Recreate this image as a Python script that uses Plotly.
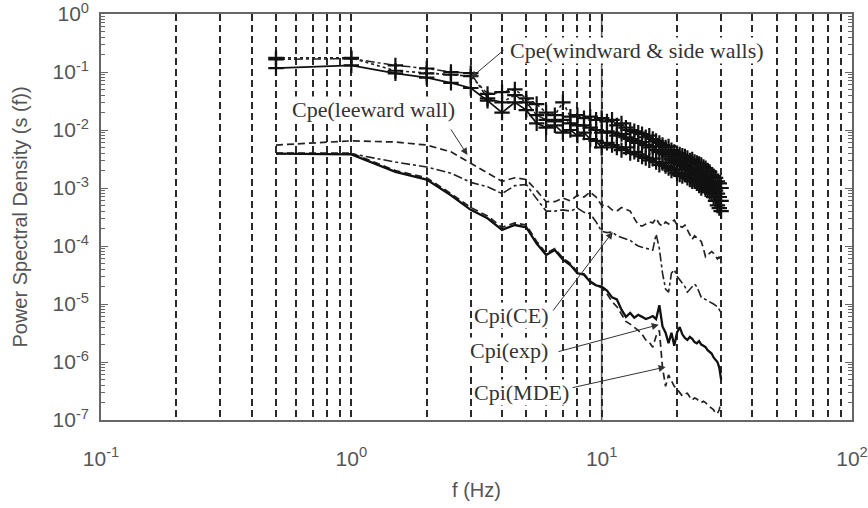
import math
import plotly.graph_objects as go

freq = [0.5, 1.0, 1.5, 2.0, 2.5, 3.0, 3.5, 4.0, 4.5, 5.0, 5.5, 6.0, 6.5, 7.0, 7.5, 8.0, 8.5, 9.0, 9.5, 10.0,
        10.5, 11.0, 11.5, 12.0, 12.5, 13.0, 13.5, 14.0, 14.5, 15.0, 15.5, 16.0, 16.5, 17.0, 17.5, 18.0, 18.5, 19.0, 19.5, 20.0,
        20.5, 21.0, 21.5, 22.0, 22.5, 23.0, 23.5, 24.0, 24.5, 25.0, 25.5, 26.0, 26.5, 27.0, 27.5, 28.0, 28.5, 29.0, 29.5, 30.0]

cpe_windward_solid = [0.117, 0.13, 0.095, 0.08, 0.065, 0.053, 0.032, 0.02, 0.03, 0.022, 0.013, 0.011, 0.012, 0.009, 0.01, 0.008, 0.009, 0.007, 0.0065, 0.005,
                      0.006, 0.0055, 0.005, 0.0045, 0.005, 0.004, 0.0042, 0.0038, 0.0035, 0.0033, 0.003, 0.0032, 0.0028, 0.0025, 0.0027, 0.0024, 0.0022, 0.002, 0.0021, 0.0018,
                      0.0017, 0.0016, 0.0017, 0.0015, 0.0014, 0.0013, 0.0014, 0.0012, 0.0011, 0.001, 0.0011, 0.00095, 0.0009, 0.00085, 0.0008, 0.0007, 0.0006, 0.0005, 0.00045, 0.0004]

cpe_side_dotted = [0.175, 0.175, 0.105, 0.095, 0.09, 0.085, 0.042, 0.045, 0.05, 0.035, 0.028, 0.02, 0.018, 0.03, 0.017, 0.018, 0.016, 0.017, 0.015, 0.016,
                   0.014, 0.015, 0.012, 0.013, 0.011, 0.01, 0.0095, 0.009, 0.0085, 0.0075, 0.008, 0.007, 0.0065, 0.006, 0.0055, 0.005, 0.0052, 0.0045, 0.0042, 0.004,
                   0.0038, 0.0036, 0.0035, 0.0033, 0.003, 0.0031, 0.0028, 0.0027, 0.0026, 0.0025, 0.0023, 0.0022, 0.002, 0.0019, 0.0017, 0.0016, 0.0015, 0.0013, 0.0012, 0.001]

cpe_side_dashdot = [0.165, 0.17, 0.13, 0.115, 0.1, 0.096, 0.035, 0.03, 0.04, 0.03, 0.018, 0.015, 0.014, 0.015, 0.013, 0.012, 0.012, 0.011, 0.01, 0.009,
                    0.0095, 0.009, 0.008, 0.0085, 0.0075, 0.007, 0.0065, 0.006, 0.0062, 0.0055, 0.005, 0.0052, 0.0045, 0.0042, 0.004, 0.0038, 0.0035, 0.0032, 0.003, 0.0028,
                    0.0027, 0.0025, 0.0024, 0.0022, 0.0021, 0.002, 0.0019, 0.0018, 0.0017, 0.0016, 0.0015, 0.0014, 0.0013, 0.0012, 0.0011, 0.001, 0.0009, 0.0008, 0.0007, 0.0006]

cpe_leeward = [5.5e-3, 6.5e-3, 6.2e-3, 5.5e-3, 4.2e-3, 2.7e-3, 1.8e-3, 1.3e-3, 1.5e-3, 1.4e-3, 9e-4, 5.8e-4, 5.8e-4, 6.7e-4, 6e-4, 7.5e-4, 7e-4, 8.5e-4, 7e-4, 5e-4,
               5e-4, 4.2e-4, 4e-4, 4.6e-4, 4.3e-4, 4e-4, 3e-4, 2.3e-4, 2.2e-4, 2.4e-4, 2.6e-4, 2.5e-4, 3e-4, 2.4e-4, 2.2e-4, 2.6e-4, 2.4e-4, 2.6e-4, 2.8e-4, 2.3e-4,
               2.2e-4, 2.1e-4, 2.3e-4, 1.9e-4, 1.6e-4, 1.3e-4, 1.5e-4, 1.4e-4, 1.3e-4, 1.2e-4, 9e-5, 6.5e-5, 7e-5, 7.5e-5, 8e-5, 7.5e-5, 6.5e-5, 6e-5, 6.5e-5, 5e-5]

cpi_ce = [3.9e-3, 3.9e-3, 2.8e-3, 2.3e-3, 1.8e-3, 1.25e-3, 1.05e-3, 8e-4, 1.1e-3, 1.15e-3, 6.5e-4, 4e-4, 4e-4, 4.2e-4, 4e-4, 4.5e-4, 3.8e-4, 3.6e-4, 2.6e-4, 1.8e-4,
          1.7e-4, 1.75e-4, 1.5e-4, 1.4e-4, 1.35e-4, 1.25e-4, 1.1e-4, 1.0e-4, 9.5e-5, 9e-5, 8.8e-5, 8.5e-5, 1.6e-4, 9e-5, 3.4e-5, 1.8e-5, 1.6e-5, 3.4e-5, 3.9e-5, 3e-5,
          2.6e-5, 2.3e-5, 2e-5, 1.6e-5, 1.8e-5, 2e-5, 2.2e-5, 2e-5, 1.6e-5, 1.3e-5, 1.25e-5, 1.2e-5, 1.15e-5, 1.1e-5, 1.05e-5, 1.0e-5, 9.5e-6, 9e-6, 8e-6, 7e-6]

cpi_exp = [3.9e-3, 3.8e-3, 1.9e-3, 1.4e-3, 7.5e-4, 4.2e-4, 3.0e-4, 1.9e-4, 2.3e-4, 2.1e-4, 1.1e-4, 7e-5, 8.5e-5, 5.8e-5, 4.7e-5, 3.4e-5, 3.2e-5, 2.4e-5, 2.1e-5, 2e-5,
           1.7e-5, 1.3e-5, 1.2e-5, 8e-6, 6e-6, 7e-6, 5.8e-6, 6.5e-6, 6e-6, 5.5e-6, 5.8e-6, 6.2e-6, 5.5e-6, 9.5e-6, 4.1e-6, 3.2e-6, 2.1e-6, 3.2e-6, 1.9e-6, 3.2e-6,
           4e-6, 3e-6, 2.6e-6, 2.4e-6, 2.7e-6, 2.5e-6, 2.2e-6, 2.1e-6, 2.3e-6, 2.0e-6, 1.9e-6, 1.8e-6, 1.6e-6, 1.5e-6, 1.4e-6, 1.2e-6, 1.1e-6, 1.0e-6, 8e-7, 5e-7]

cpi_mde = [4.0e-3, 4.0e-3, 2.0e-3, 1.5e-3, 8e-4, 4.6e-4, 3.3e-4, 2.1e-4, 2.5e-4, 2.3e-4, 1.2e-4, 7.5e-5, 9e-5, 6.2e-5, 5e-5, 3.6e-5, 3.3e-5, 2.5e-5, 2.1e-5, 1.9e-5,
           1.5e-5, 1.1e-5, 9e-6, 6.5e-6, 5e-6, 4.5e-6, 4e-6, 3.5e-6, 3e-6, 2.4e-6, 2.2e-6, 1.8e-6, 2.8e-6, 3.5e-6, 8e-7, 3.8e-7, 6e-7, 4.8e-7, 3.8e-7, 3.4e-7,
           3e-7, 2.6e-7, 2.8e-7, 2.9e-7, 2.5e-7, 2.2e-7, 2.4e-7, 2.3e-7, 2.1e-7, 2e-7, 2.1e-7, 2e-7, 1.8e-7, 1.7e-7, 1.6e-7, 1.5e-7, 1.3e-7, 1.3e-7, 1.5e-7, 2.2e-7]

x_tick_vals = [0.1, 1, 10, 100]
x_tick_text = ["10<sup>-1</sup>", "10<sup>0</sup>", "10<sup>1</sup>", "10<sup>2</sup>"]
y_tick_vals = [1e-7, 1e-6, 1e-5, 1e-4, 1e-3, 1e-2, 1e-1, 1]
y_tick_text = ["10<sup>-7</sup>", "10<sup>-6</sup>", "10<sup>-5</sup>", "10<sup>-4</sup>",
               "10<sup>-3</sup>", "10<sup>-2</sup>", "10<sup>-1</sup>", "10<sup>0</sup>"]
solid_grid_at = 10

x_minor = [m * 10.0 ** d for d in (-1, 0, 1) for m in range(2, 10)]
y_minor = [m * 10.0 ** d for d in range(-7, 0) for m in range(2, 10)]

# plot-area geometry (pixels) used only to place annotation texts
L, R, T, B = 101, 852, 14, 420

fig = go.Figure()
marker_cross = dict(symbol="cross-thin", size=11, line=dict(width=2.2, color="#111"), color="#111")

fig.add_trace(go.Scatter(x=freq, y=cpe_side_dashdot, mode="lines+markers",
                         line=dict(color="#222", width=1.5, dash="dashdot"), marker=marker_cross))
fig.add_trace(go.Scatter(x=freq, y=cpe_side_dotted, mode="lines+markers",
                         line=dict(color="#222", width=1.7, dash="dot"), marker=marker_cross))
fig.add_trace(go.Scatter(x=freq, y=cpe_windward_solid, mode="lines+markers",
                         line=dict(color="#111", width=1.7), marker=marker_cross))
fig.add_trace(go.Scatter(x=freq, y=cpe_leeward, mode="lines",
                         line=dict(color="#222", width=1.7, dash="7px,4px")))
fig.add_trace(go.Scatter(x=freq, y=cpi_ce, mode="lines",
                         line=dict(color="#222", width=1.6, dash="dashdot")))
fig.add_trace(go.Scatter(x=freq, y=cpi_mde, mode="lines",
                         line=dict(color="#222", width=1.7, dash="7px,4px")))
fig.add_trace(go.Scatter(x=freq, y=cpi_exp, mode="lines",
                         line=dict(color="#111", width=2.3)))

axis_col = "#666"
tick_font = dict(family="Liberation Sans, Arial", size=21, color="#555")
grid_col = "#2a2a2a"
grid_dash = "7px,4px"

fig.update_xaxes(type="log", range=[-1, 2], tickvals=x_tick_vals, ticktext=x_tick_text,
                 tickfont=tick_font, showline=True, linecolor=axis_col, linewidth=1.6, mirror=True,
                 ticks="", showgrid=True, gridcolor=grid_col, gridwidth=1.5, griddash=grid_dash,
                 ticklabelstandoff=19, zeroline=False, automargin=False, ticklabeloverflow="allow",
                 minor=dict(tickvals=x_minor, showgrid=True, gridcolor=grid_col, gridwidth=1.5,
                            griddash=grid_dash, ticks=""),
                 title=dict(text="f (Hz)", font=dict(family="Liberation Sans, Arial", size=20, color="#555"),
                            standoff=14))
fig.update_yaxes(type="log", range=[-7, 0], tickvals=y_tick_vals, ticktext=y_tick_text,
                 tickfont=tick_font, showline=True, linecolor=axis_col, linewidth=1.6, mirror="ticks",
                 ticks="inside", ticklen=7, tickcolor=axis_col, tickwidth=1.3, showgrid=False,
                 zeroline=False, ticklabelstandoff=6, automargin=False, ticklabeloverflow="allow",
                 minor=dict(tickvals=y_minor, ticks="inside", ticklen=4, tickcolor=axis_col, tickwidth=1, showgrid=False),
                 title=dict(text="Power Spectral Density (s (f))",
                            font=dict(family="Liberation Sans, Arial", size=20, color="#555"), standoff=20))

fig.add_shape(type="line", xref="x", yref="paper", x0=solid_grid_at, x1=solid_grid_at, y0=0, y1=1,
              line=dict(color="#666", width=1.6), layer="below")

ann_font = dict(family="Liberation Serif, Times New Roman", size=22, color="#333")
labels = [
    ("Cpe(windward &amp; side walls)", 3.0, 0.079, 637, 50, 505, 49),
    ("Cpe(leeward wall)", 2.91, 3.7e-3, 373, 110, 450, 128),
    ("Cpi(CE)", 11.07, 1.74e-4, 511, 315, 552, 312),
    ("Cpi(exp)", 16.9, 4.4e-6, 509, 350, 557, 352),
    ("Cpi(MDE)", 18.0, 8.2e-7, 521, 392, 571, 388),
]
for text, fx, fy, tx, ty, ax_px, ay_px in labels:
    fig.add_annotation(x=(tx - L) / (R - L), y=1 - (ty - T) / (B - T), xref="paper", yref="paper",
                       text=text, showarrow=False, font=ann_font, xanchor="center", yanchor="middle",
                       bgcolor="white", borderpad=0)
    tip_px_x = L + (R - L) / 3 * (math.log10(fx) + 1)
    tip_px_y = T + (B - T) / 7 * (-math.log10(fy))
    fig.add_annotation(x=math.log10(fx), y=math.log10(fy), xref="x", yref="y", text="",
                       showarrow=True, arrowhead=2, arrowsize=1.4, arrowwidth=1, arrowcolor="#333",
                       ax=ax_px - tip_px_x, ay=ay_px - tip_px_y, axref="pixel", ayref="pixel")

fig.update_layout(width=868, height=508, margin=dict(l=L, r=868 - R, t=T, b=508 - B),
                  plot_bgcolor="white", paper_bgcolor="white", showlegend=False)

fig.write_html("out.html")
